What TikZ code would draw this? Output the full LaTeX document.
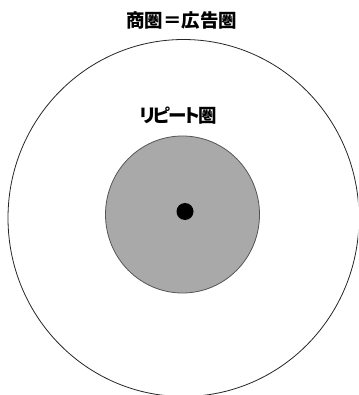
\documentclass[tikz,border=0pt]{standalone}
\usepackage{fontspec}
\usetikzlibrary{shapes.geometric}
\newfontfamily\jpfont[RawFeature=+palt]{Noto Sans CJK JP}
\definecolor{zonegray}{HTML}{A9A9A9}
\definecolor{zoneedge}{HTML}{555555}
\newcommand\tightk{\kern-2pt\relax}
\tikzset{
  ring/.style={ellipse, draw=black!85, line width=0.8pt, inner sep=0pt},
  repeatzone/.style={ellipse, draw=zoneedge, fill=zonegray, line width=0.8pt, inner sep=0pt},
  shopdot/.style={circle, fill=black, inner sep=0pt, minimum size=17pt},
  label/.style={font=\jpfont\bfseries\fontsize{18.5}{20}\selectfont, inner sep=0pt},
}
\begin{document}
\begin{tikzpicture}[x=1pt,y=-1pt]
\useasboundingbox (0,0) rectangle (358,395);
\begin{scope}
\clip (0,0) rectangle (358,395);
\node[ring, minimum width=351pt, minimum height=357pt] (outer) at (183.5,218) {};
\end{scope}
\node[repeatzone, minimum width=154pt, minimum height=157pt] (inner) at (182.5,214.5) {};
\node[shopdot] (shop) at (185,211.5) {};
\node[label] (title) at (181.5,20) {商圏＝広告圏};
\node[label] (rlabel) at (178,115.5) {リ\tightk ピ\tightk ー\tightk ト\tightk 圏};
\end{tikzpicture}
\end{document}
